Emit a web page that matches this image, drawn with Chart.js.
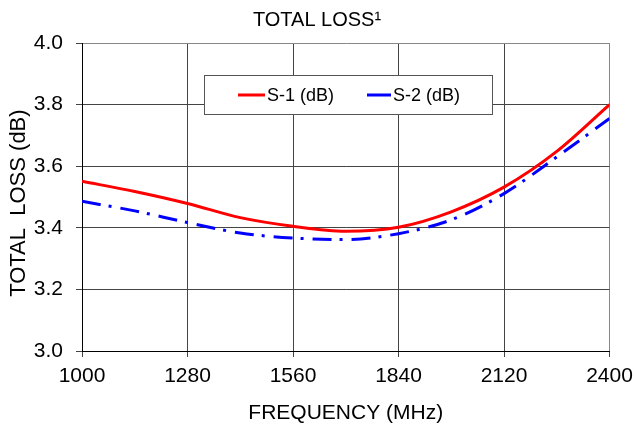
<!DOCTYPE html>
<html>
<head>
<meta charset="utf-8">
<script src="https://cdn.jsdelivr.net/npm/chart.js@4"></script>
<style>
  html, body { margin: 0; padding: 0; background: #fff; }
  #wrap { width: 634px; height: 426px; }
</style>
</head>
<body>
<div id="wrap"><canvas id="grafico"></canvas></div>
<script>
// dados
const frequencias = [1000, 1140, 1280, 1420, 1560, 1700, 1840, 1980, 2120, 2260, 2400];
const perdaS1 = [3.551, 3.518, 3.479, 3.433, 3.405, 3.389, 3.402, 3.452, 3.532, 3.648, 3.80];
const perdaS2 = [3.486, 3.455, 3.417, 3.383, 3.367, 3.362, 3.381, 3.426, 3.511, 3.630, 3.755];
const ticksX = [1000, 1280, 1560, 1840, 2120, 2400];
const ticksY = [3.0, 3.2, 3.4, 3.6, 3.8, 4.0];

const FONTE = "'Liberation Sans', Arial, sans-serif";

// legenda desenhada dentro da área do gráfico, com caixa
const legendaCaixa = {
    id: 'legendaCaixa',
    afterDraw(chart) {
        const ctx = chart.ctx;
        const area = chart.chartArea;
        const x0 = area.left + 122, y0 = area.top + 32;
        const w = 288, h = 39;
        ctx.save();
        ctx.fillStyle = '#fff';
        ctx.strokeStyle = '#555';
        ctx.lineWidth = 1;
        ctx.fillRect(x0, y0, w, h);
        ctx.strokeRect(x0 + 0.5, y0 + 0.5, w, h);
        ctx.font = '18px ' + FONTE;
        ctx.textBaseline = 'middle';
        const cy = y0 + h / 2 + 0.5;
        const itens = [[34, 27], [163, 24]];
        chart.data.datasets.forEach((ds, i) => {
            const [dx, len] = itens[i];
            ctx.strokeStyle = ds.borderColor;
            ctx.lineWidth = 3;
            ctx.setLineDash([]);
            ctx.beginPath();
            ctx.moveTo(x0 + dx, cy);
            ctx.lineTo(x0 + dx + len, cy);
            ctx.stroke();
            ctx.fillStyle = '#000';
            ctx.fillText(ds.label, x0 + dx + len + 2, cy + 1);
        });
        ctx.restore();
    }
};

const ctxGrafico = document.getElementById('grafico').getContext('2d');
new Chart(ctxGrafico, {
    type: 'line',
    data: {
        labels: frequencias,
        datasets: [
            {
                label: 'S-1 (dB)',
                data: frequencias.map((f, i) => ({ x: f, y: perdaS1[i] })),
                borderColor: '#ff0000',
                borderWidth: 3,
                pointRadius: 0,
                cubicInterpolationMode: 'monotone'
            },
            {
                label: 'S-2 (dB)',
                data: frequencias.map((f, i) => ({ x: f, y: perdaS2[i] })),
                borderColor: '#0000ff',
                borderWidth: 3,
                borderDash: [19, 8, 3, 9],
                pointRadius: 0,
                cubicInterpolationMode: 'monotone'
            }
        ]
    },
    options: {
        responsive: true,
        maintainAspectRatio: false,
        animation: false,
        layout: { padding: { left: 0, right: 0, top: 0, bottom: 0 } },
        plugins: {
            legend: { display: false },
            tooltip: { enabled: false },
            title: {
                display: true,
                text: 'TOTAL LOSS\u00B9',
                color: '#000',
                font: { family: FONTE, size: 20, weight: 'normal' },
                padding: { top: 8, bottom: 11 }
            }
        },
        scales: {
            x: {
                type: 'linear',
                min: 1000,
                max: 2400,
                afterBuildTicks: (scale) => { scale.ticks = ticksX.map(v => ({ value: v })); },
                afterFit: (scale) => {
                    scale.height = 75;
                    scale.paddingRight = 24.5; // espaço do rótulo 2400 à direita
                },
                ticks: {
                    color: '#000',
                    font: { family: FONTE, size: 21 },
                    padding: 7,
                    maxRotation: 0,
                    callback: (v) => String(v)
                },
                grid: {
                    color: (c) => c.index === ticksX.length - 1 ? '#888' : '#444',
                    tickColor: '#444',
                    tickLength: 6
                },
                border: { color: '#000', width: 1 },
                title: {
                    display: true,
                    text: 'FREQUENCY (MHz)',
                    color: '#000',
                    font: { family: FONTE, size: 21 },
                    padding: { top: 0, bottom: 0 }
                }
            },
            y: {
                min: 3.0,
                max: 4.0,
                afterBuildTicks: (scale) => { scale.ticks = ticksY.map(v => ({ value: v })); },
                afterFit: (scale) => { scale.width = 82; },
                ticks: {
                    color: '#000',
                    font: { family: FONTE, size: 21 },
                    padding: 13,
                    callback: (v) => Number(v).toFixed(1)
                },
                grid: {
                    color: (c) => c.index === ticksY.length - 1 ? '#888' : '#444',
                    tickColor: '#444',
                    tickLength: 6
                },
                border: { color: '#000', width: 1 },
                title: {
                    display: true,
                    text: 'TOTAL  LOSS (dB)  ', // espaços finais baixam o texto um pouco
                    color: '#000',
                    font: { family: FONTE, size: 22 },
                    padding: { top: 6, bottom: 0 }
                }
            }
        }
    },
    plugins: [legendaCaixa]
});
</script>
</body>
</html>
